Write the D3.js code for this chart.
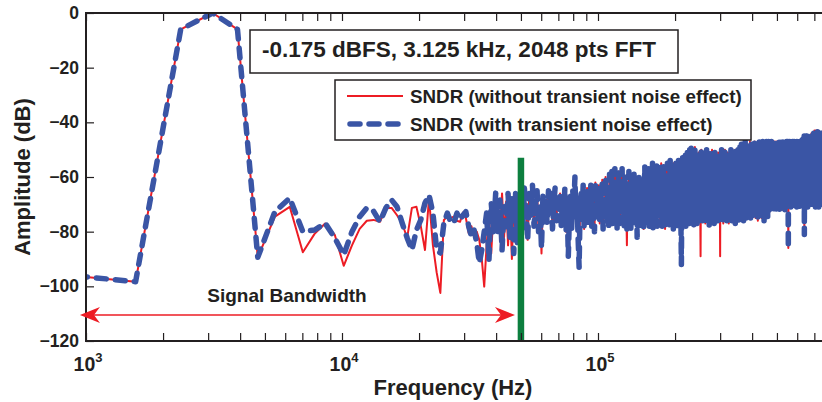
<!DOCTYPE html>
<html>
<head>
<meta charset="utf-8">
<script src="https://cdn.jsdelivr.net/npm/d3@7"></script>
<style>
  body { margin: 0; background: #fff; }
  svg { display: block; font-family: "Liberation Sans", Arial, sans-serif; font-weight: bold; }
</style>
</head>
<body>
<script>
// FFT bin spacing (1.6 MHz / 2048)
var binHz = 781.25;
var bandEdge = 50000;      // signal bandwidth marker (Hz)
var markerTop = -53;       // top of green marker (dB)
var arrowSpan = [947, 47400];
var arrowLevel = -110.5;

var xTickMajor = [1e3, 1e4, 1e5];
var xTickExp = ["3", "4", "5"];
var yTicks = [-120, -100, -80, -60, -40, -20, 0];

// bins k = 1..63 (inside the signal band)
var lowRed = [-95.6, -98.3, -6, 0, -6, -89.4, -74.5, -70.9, -87.5, -80.8,
  -77, -81.2, -92.5, -85, -79, -76, -75.7, -76.4, -71.3, -71.3,
  -74, -77, -82.3, -71.3, -70.9, -78, -86.7, -67.7, -85, -95,
  -102.4, -75.7, -74.5, -75, -74.5, -76, -76.4, -73, -75, -80.5,
  -78, -82, -80, -83, -90, -100.1, -85, -74, -88, -72,
  -78, -70, -80, -66, -82, -69, -85, -70, -90, -68,
  -80, -72, -82];
var lowBlue = [-95.6, -98.3, -6, 0, -6, -89.4, -72.7, -67.7, -80, -79.4,
  -76.9, -82.3, -88.5, -80, -74.5, -71.3, -72.5, -76.4, -71.3, -68.4,
  -70.9, -76.9, -82.3, -86.7, -79.4, -75.7, -69.5, -66.6, -73.2, -86.7,
  -87.8, -76.9, -73.2, -76.4, -76.9, -73.2, -75.7, -74, -72.7, -78,
  -81.8, -79.4, -84, -91.5, -86.7, -80, -73.2, -90.4, -69.5, -80,
  -65.9, -80.5, -68.4, -86.7, -70.9, -78.2, -66, -82, -68, -88,
  -66, -84, -70];

// bins k = 64..1023 (out of band, both runs nearly identical)
var highBand = [
  -68, -79, -64, -72, -83, -66,
  -74, -63, -78, -70, -65, -80, -71, -86, -67, -75,
  -69, -77, -65, -73, -66, -79, -70, -64, -76, -68,
  -72, -66, -78, -68, -75, -64, -80, -70, -89, -74,
  -67, -79, -65, -71, -60, -76, -68, -82, -93, -70,
  -66, -75, -63, -79, -69, -72, -64, -77, -67, -73,
  -63, -78, -66, -70, -80, -62, -74, -68,
  -70, -63, -77, -66, -72, -61, -79, -68, -74, -60, -71, -76, -65, -78, -59, -69,
  -73, -58, -77, -66, -70, -57, -75, -64, -79, -68, -58, -72, -77, -63, -70, -57,
  -74, -66, -78, -60, -71, -70, -79, -62, -76, -58, -73, -67, -79, -61, -70, -64,
  -77, -59, -72, -68, -75, -62, -82, -66, -71, -60, -78, -65, -73, -61, -76, -69,
  -63, -79, -67, -56, -74, -70, -58, -77, -65, -72, -57, -78, -68, -60, -75, -64,
  -71, -55, -79, -66, -73, -59, -76, -62, -70, -56, -78, -67, -61, -74, -57, -69,
  -76, -63, -55, -72, -78, -60, -68, -56, -75, -65, -79, -58, -71, -62, -77, -55,
  -67, -73, -59, -78, -64, -54, -70, -76, -61, -57, -74, -66, -79, -55, -69, -72,
  -62, -75, -55, -70, -66, -78, -58, -72, -54, -68, -76, -60, -73, -57, -79, -92,
  -65, -71, -53, -77, -63, -69, -56, -74, -60, -52, -78, -67, -58, -72, -51, -75,
  -64, -70, -55, -77, -50, -68, -73, -59, -49, -76, -62, -71, -54, -67, -50, -78,
  -60, -73, -49, -66, -75, -56, -70, -52, -77, -63, -58, -74, -51, -69, -76, -61,
  -55, -72, -74, -64, -50, -71, -67, -57, -76, -53, -68, -62, -74, -51, -70, -59,
  -77, -54, -66, -73, -50, -69, -61, -75, -56, -72, -52, -64, -78, -58, -70, -51,
  -67, -74, -55, -62, -76, -50, -71, -65, -57, -73, -53, -68, -77, -60, -51, -70,
  -63, -75, -56, -69, -52, -72, -66, -58, -76, -51, -64, -71, -55, -74, -60, -67,
  -75, -53, -70, -62, -76, -50, -68, -57, -73, -65, -51, -77, -59, -69, -54, -72,
  -61, -50, -75, -66, -56, -71, -53, -64, -76, -58, -69, -51, -73, -62, -55, -77,
  -67, -52, -70, -60, -74, -56, -65, -50, -72, -63, -57, -76, -53, -68, -61, -75,
  -51, -66, -73, -55, -70, -59, -64, -50, -77, -62, -54, -71, -58, -68, -52, -74,
  -65, -56, -72, -50, -67, -61, -76, -53, -69, -58, -73, -49, -64, -70, -55, -75,
  -60, -48, -71, -66, -54, -74, -51, -63, -69, -57, -76, -49, -67, -59, -72, -52,
  -65, -47, -70, -61, -55, -75, -50, -68, -58, -73, -48, -64, -71, -53, -66, -60,
  -74, -49, -62, -69, -56, -72, -47, -67, -59, -75, -51, -63, -70, -48, -65, -57,
  -61, -50, -72, -57, -66, -48, -74, -59, -53, -69, -63, -47, -71, -56, -65, -52,
  -75, -60, -49, -68, -55, -73, -62, -48, -70, -58, -51, -76, -64, -54, -67, -50,
  -72, -59, -47, -66, -61, -74, -53, -69, -49, -63, -71, -56, -48, -75, -60, -65,
  -52, -70, -57, -47, -68, -62, -73, -50, -66, -55, -76, -49, -64, -58, -71, -53,
  -67, -48, -61, -74, -54, -69, -47, -63, -72, -56, -50, -66, -59, -75, -52, -68,
  -57, -47, -70, -62, -53, -73, -49, -65, -58, -71, -48, -67, -55, -60, -72, -51,
  -64, -47, -69, -56, -61, -71, -50, -66, -53, -70, -48, -63, -58, -72, -52, -67,
  -49, -60, -70, -55, -47, -65, -71, -54, -62, -48, -68, -57, -72, -51, -64, -59,
  -47, -69, -56, -63, -50, -71, -58, -66, -48, -61, -70, -53, -67, -47, -59, -72,
  -54, -65, -49, -70, -60, -52, -68, -47, -63, -71, -56, -50, -66, -58, -72, -48,
  -62, -55, -69, -47, -64, -57, -71, -51, -67, -48, -60, -70, -53, -65, -47, -58,
  -72, -50, -63, -56, -68, -48, -61, -71, -54, -66, -47, -59, -70, -52, -64, -49,
  -69, -57, -47, -62, -73, -86, -55, -67, -48, -60, -70, -51, -65, -58, -47, -71,
  -53, -63, -49, -68, -56, -71, -47, -61, -66, -52, -70, -48, -59, -64, -55, -69,
  -47, -62, -57, -71, -50, -65, -48, -68, -54, -60, -70, -47, -63, -56, -67, -51,
  -69, -48, -61, -55, -66, -47, -70, -58, -52, -64, -49, -68, -57, -71, -47, -60,
  -54, -66, -48, -62, -70, -51, -58, -47, -67, -55, -63, -49, -69, -57, -50, -65,
  -47, -60, -71, -53, -64, -48, -58, -68, -51, -62, -47, -70, -56, -66, -49, -59,
  -67, -46, -61, -54, -69, -48, -57, -65, -50, -71, -46, -63, -55, -68, -47, -60,
  -52, -66, -45, -81, -58, -70, -47, -62, -54, -67, -46, -59, -69, -50, -63, -45,
  -57, -68, -48, -61, -53, -70, -45, -64, -56, -66, -47, -59, -71, -51, -62, -45,
  -67, -54, -60, -46, -69, -57, -50, -64, -45, -62, -70, -52, -58, -47, -66, -55,
  -61, -45, -68, -53, -63, -47, -70, -56, -59, -44, -65, -51, -67, -48, -60, -69,
  -46, -57, -64, -44, -66, -52, -70, -49, -61, -55, -68, -44, -59, -63, -47, -67,
  -53, -43, -62, -69, -50, -58, -44, -66, -55, -71, -46, -60, -64, -43, -57, -68,
  -48, -63, -52, -44, -70, -59, -47, -65, -54, -67, -43, -61, -57, -69, -45, -62,
  -50, -66, -44, -58, -71, -53, -46, -64, -60, -47, -68, -55, -44, -62, -57, -70,
  -45, -59, -65, -49, -67, -44, -56, -62, -70, -47, -60, -53, -66, -44, -58, -69,
  -51, -63, -45, -67, -55, -60, -46, -70, -57, -48, -64, -52, -68, -45, -61, -56,
  -66, -44, -59, -70, -50, -62, -46, -65, -54, -69, -47, -58, -63, -45, -67, -53,
  -60, -46, -68, -55, -62, -44, -71, -57, -49, -65, -52, -69, -45, -61, -58, -66,
  -47, -63, -54, -70, -45, -59, -66, -50, -68, -56, -46, -62, -71, -53, -48, -64
];

// bins where the run without transient noise dips deeper: [k, dB]
var redDips = [[77, -88], [166, -85], [322, -89], [384, -89]];

var W = 822, H = 402;
var ink = "#231f20";
var dash = "10,9";

var svg = d3.select("body").append("svg").attr("width", W).attr("height", H);

var x = d3.scaleLog().domain([1e3, 8e5]).range([86, 86 + 256 * Math.log10(800)]);
var y = d3.scaleLinear().domain([-120, 0]).range([341, 13]);

function buildSeries(low, overrides) {
  var pts = low.map(function(v, i) { return { f: (i + 1) * binHz, v: v }; });
  highBand.forEach(function(v, i) { pts.push({ f: (i + 64) * binHz, v: v }); });
  (overrides || []).forEach(function(o) { pts[o[0] - 1].v = o[1]; });
  return pts;
}

var redPts = buildSeries(lowRed, redDips);
var bluePts = buildSeries(lowBlue);

svg.append("clipPath").attr("id", "plot")
  .append("rect")
  .attr("x", x.range()[0]).attr("y", y(0) - 1)
  .attr("width", x.range()[1] - x.range()[0]).attr("height", y(-120) - y(0) + 1);

var line = d3.line().x(function(d) { return x(d.f); }).y(function(d) { return y(d.v); });

var plot = svg.append("g").attr("clip-path", "url(#plot)");

plot.append("path").datum(redPts)
  .attr("d", line).attr("fill", "none")
  .attr("stroke", "#ed1c24").attr("stroke-width", 2).attr("stroke-linejoin", "round");

plot.append("path").datum(bluePts)
  .attr("d", line).attr("fill", "none")
  .attr("stroke", "#3a55a5").attr("stroke-width", 5.5)
  .attr("stroke-dasharray", dash).attr("stroke-linecap", "round").attr("stroke-linejoin", "round");

// band edge marker
svg.append("line")
  .attr("x1", x(bandEdge)).attr("x2", x(bandEdge))
  .attr("y1", y(markerTop)).attr("y2", y(-120))
  .attr("stroke", "#0d7f3f").attr("stroke-width", 6.5);

// axes
var xMinor = [];
[1e3, 1e4, 1e5].forEach(function(d) {
  for (var m = 2; m <= 9; m++) if (m * d <= 8e5) xMinor.push(m * d);
});

function styleAxis(g) {
  g.select(".domain").remove();
  g.selectAll(".tick line").attr("stroke", ink).attr("stroke-width", 1.2);
}

svg.append("g").attr("transform", "translate(0," + y(-120) + ")")
  .call(d3.axisBottom(x).tickValues(xTickMajor.concat(xMinor)).tickSize(-8).tickFormat(""))
  .call(styleAxis);
svg.append("g").attr("transform", "translate(0," + y(0) + ")")
  .call(d3.axisTop(x).tickValues(xTickMajor.concat(xMinor)).tickSize(-8).tickFormat(""))
  .call(styleAxis);

svg.append("g").attr("transform", "translate(" + x(1e3) + ",0)")
  .call(d3.axisLeft(y).tickValues(yTicks).tickSize(-8).tickPadding(7))
  .call(styleAxis)
  .call(function(g) {
    g.selectAll("text").attr("fill", ink).style("font-size", "17.5px")
      .style("font-family", "'Liberation Sans', Arial, sans-serif").style("font-weight", "bold");
  });

svg.append("rect")
  .attr("x", x.range()[0]).attr("y", y(0))
  .attr("width", x.range()[1] - x.range()[0]).attr("height", y(-120) - y(0))
  .attr("fill", "none").attr("stroke", ink).attr("stroke-width", 2);

// x tick labels 10^n
xTickMajor.forEach(function(v, i) {
  var t = svg.append("text").attr("x", x(v) + 2).attr("y", 371)
    .attr("text-anchor", "middle").attr("fill", ink).style("font-size", "19.5px");
  t.append("tspan").text("10");
  t.append("tspan").attr("dy", -9).style("font-size", "13px").text(xTickExp[i]);
});

svg.append("text").attr("x", 453).attr("y", 395)
  .attr("text-anchor", "middle").attr("fill", ink).style("font-size", "22px")
  .text("Frequency (Hz)");

svg.append("text")
  .attr("transform", "translate(30," + ((y(0) + y(-120)) / 2) + ") rotate(-90)")
  .attr("text-anchor", "middle").attr("fill", ink).style("font-size", "22px")
  .text("Amplitude (dB)");

// bandwidth arrow
var ay = y(arrowLevel), ax0 = x(arrowSpan[0]), ax1 = x(arrowSpan[1]);
svg.append("line").attr("x1", ax0 + 10).attr("x2", ax1 - 10).attr("y1", ay).attr("y2", ay)
  .attr("stroke", "#ed1c24").attr("stroke-width", 1.5);
var head = "M0,0 L20,-8 L14,0 L20,8 Z";
svg.append("path").attr("d", head).attr("fill", "#ed1c24")
  .attr("transform", "translate(" + ax0 + "," + ay + ")");
svg.append("path").attr("d", head).attr("fill", "#ed1c24")
  .attr("transform", "translate(" + ax1 + "," + ay + ") scale(-1,1)");

svg.append("text").attr("x", 287).attr("y", 302)
  .attr("text-anchor", "middle").attr("fill", ink).style("font-size", "19px")
  .text("Signal Bandwidth");

// info box
svg.append("rect").attr("x", 250).attr("y", 30).attr("width", 428).attr("height", 43)
  .attr("fill", "#fff").attr("stroke", ink).attr("stroke-width", 1.5);
svg.append("text").attr("x", 262).attr("y", 57).attr("fill", ink).style("font-size", "22.5px")
  .text("-0.175 dBFS, 3.125 kHz, 2048 pts FFT");

// legend
var legend = svg.append("g");
legend.append("rect").attr("x", 335).attr("y", 80).attr("width", 416).attr("height", 60)
  .attr("fill", "#fff").attr("stroke", ink).attr("stroke-width", 1.5);
legend.append("line").attr("x1", 347).attr("x2", 403).attr("y1", 96).attr("y2", 96)
  .attr("stroke", "#ed1c24").attr("stroke-width", 2);
legend.append("line").attr("x1", 350).attr("x2", 403).attr("y1", 124).attr("y2", 124)
  .attr("stroke", "#3a55a5").attr("stroke-width", 5.5)
  .attr("stroke-dasharray", dash).attr("stroke-linecap", "round");
legend.append("text").attr("x", 410).attr("y", 103).attr("fill", ink).style("font-size", "18.8px")
  .text("SNDR (without transient noise effect)");
legend.append("text").attr("x", 410).attr("y", 131).attr("fill", ink).style("font-size", "18.8px")
  .text("SNDR (with transient noise effect)");
</script>
</body>
</html>
